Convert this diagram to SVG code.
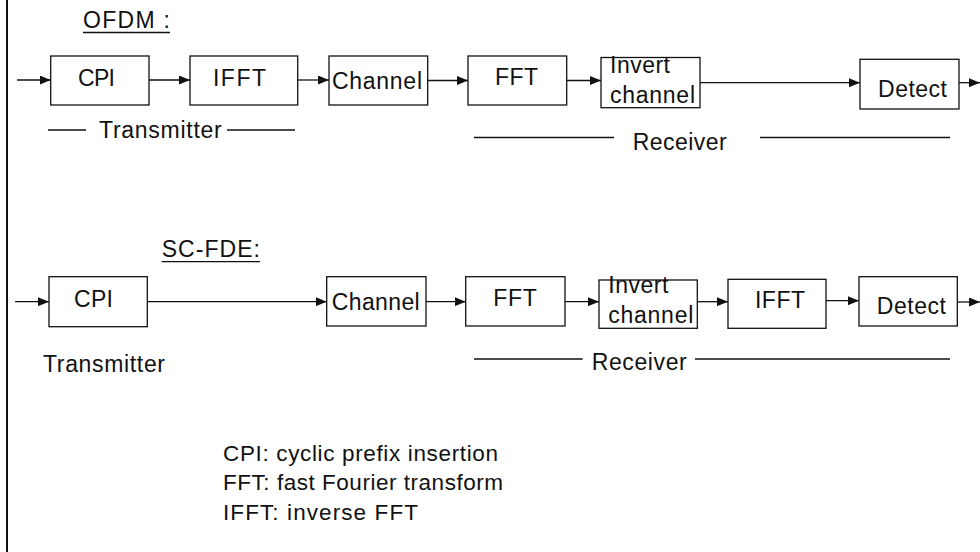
<svg xmlns="http://www.w3.org/2000/svg" width="980" height="552" viewBox="0 0 980 552">
<style>
.box{fill:#fff;stroke:#111;stroke-width:1.3}
.t{font-family:"Liberation Sans",Arial,sans-serif;font-size:23px;fill:#111}
.lg{font-family:"Liberation Sans",Arial,sans-serif;font-size:22.5px;fill:#111}
.ln{stroke:#111;stroke-width:1.3;fill:none}
.ar{stroke:#111;stroke-width:1.3;fill:none;marker-end:url(#ah)}
</style>
<defs>
<marker id="ah" markerUnits="userSpaceOnUse" markerWidth="11" markerHeight="9" refX="11" refY="4.5" orient="auto">
<path d="M0,0 L11,4.5 L0,9 z" fill="#111"/>
</marker>
</defs>
<rect width="980" height="552" fill="#fff"/>
<line x1="7" y1="0" x2="7" y2="552" stroke="#111" stroke-width="2"/>

<g id="title-ofdm">
<text class="t" x="83" y="28" textLength="87" lengthAdjust="spacing">OFDM :</text>
<line class="ln" x1="83" y1="32.5" x2="170" y2="32.5"/>
</g>
<g id="ofdm-cpi"><rect class="box" x="50.7" y="56" width="98.3" height="49"/><text class="t" x="78" y="86" textLength="37" lengthAdjust="spacing">CPI</text></g>
<g id="ofdm-ifft"><rect class="box" x="190" y="56" width="107.7" height="49"/><text class="t" x="213" y="86" textLength="53" lengthAdjust="spacing">IFFT</text></g>
<g id="ofdm-channel"><rect class="box" x="329" y="56" width="98.7" height="49"/><text class="t" x="332" y="89" textLength="90" lengthAdjust="spacing">Channel</text></g>
<g id="ofdm-fft"><rect class="box" x="468" y="56" width="98.7" height="49"/><text class="t" x="495" y="85" textLength="43" lengthAdjust="spacing">FFT</text></g>
<g id="ofdm-invert"><rect class="box" x="601" y="57.5" width="99" height="50.2"/><text class="t" x="610" y="73" textLength="60" lengthAdjust="spacing">Invert</text><text class="t" x="610" y="103" textLength="85" lengthAdjust="spacing">channel</text></g>
<g id="ofdm-detect"><rect class="box" x="860" y="59.3" width="99" height="49.7"/><text class="t" x="878" y="97" textLength="69" lengthAdjust="spacing">Detect</text></g>
<g id="ofdm-transmitter"><line class="ln" x1="48" y1="130" x2="86" y2="130"/><text class="t" x="99" y="138" textLength="122.7" lengthAdjust="spacing">Transmitter</text><line class="ln" x1="227" y1="130" x2="295" y2="130"/></g>
<g id="ofdm-receiver"><line class="ln" x1="474" y1="137.5" x2="614" y2="137.5"/><text class="t" x="632.7" y="150" textLength="94" lengthAdjust="spacing">Receiver</text><line class="ln" x1="760" y1="137.5" x2="950" y2="137.5"/></g>

<g id="title-scfde">
<text class="t" x="161.7" y="257" textLength="98.3" lengthAdjust="spacing">SC-FDE:</text>
<line class="ln" x1="161.7" y1="261.7" x2="260" y2="261.7"/>
</g>
<g id="sc-cpi"><rect class="box" x="49" y="276.7" width="98.3" height="50"/><text class="t" x="74" y="307" textLength="39" lengthAdjust="spacing">CPI</text></g>
<g id="sc-channel"><rect class="box" x="326.7" y="276.7" width="99.3" height="49.3"/><text class="t" x="331.7" y="310" textLength="88" lengthAdjust="spacing">Channel</text></g>
<g id="sc-fft"><rect class="box" x="465.7" y="276.7" width="99.3" height="49.3"/><text class="t" x="493.3" y="306" textLength="43.4" lengthAdjust="spacing">FFT</text></g>
<g id="sc-invert"><rect class="box" x="599" y="280" width="98.3" height="48.3"/><text class="t" x="608.3" y="293.3" textLength="60" lengthAdjust="spacing">Invert</text><text class="t" x="608.3" y="323.3" textLength="85" lengthAdjust="spacing">channel</text></g>
<g id="sc-ifft"><rect class="box" x="728" y="279.3" width="98" height="49"/><text class="t" x="755" y="308" textLength="50" lengthAdjust="spacing">IFFT</text></g>
<g id="sc-detect"><rect class="box" x="859" y="276.7" width="98.3" height="49.3"/><text class="t" x="876.7" y="314" textLength="69.3" lengthAdjust="spacing">Detect</text></g>
<g id="sc-transmitter"><text class="t" x="43" y="372" textLength="122" lengthAdjust="spacing">Transmitter</text></g>
<g id="sc-receiver"><line class="ln" x1="474" y1="359" x2="582.7" y2="359"/><text class="t" x="591.7" y="370" textLength="95" lengthAdjust="spacing">Receiver</text><line class="ln" x1="695" y1="359" x2="950" y2="359"/></g>

<g id="legend">
<text class="lg" x="223" y="460.7" textLength="275" lengthAdjust="spacing">CPI: cyclic prefix insertion</text>
<text class="lg" x="223" y="490" textLength="280" lengthAdjust="spacing">FFT: fast Fourier transform</text>
<text class="lg" x="223" y="520" textLength="195" lengthAdjust="spacing">IFFT: inverse FFT</text>
</g>

<g id="connectors">
<line class="ar" x1="17" y1="80" x2="50.7" y2="80"/>
<line class="ar" x1="149" y1="80" x2="190" y2="80"/>
<line class="ar" x1="297.7" y1="80" x2="329" y2="80"/>
<line class="ar" x1="427.7" y1="80.5" x2="468" y2="80.5"/>
<line class="ar" x1="566.7" y1="80.5" x2="601" y2="80.5"/>
<line class="ar" x1="700" y1="82.7" x2="860" y2="82.7"/>
<line class="ar" x1="959" y1="82.7" x2="980" y2="82.7"/>
<line class="ar" x1="15" y1="301.7" x2="49" y2="301.7"/>
<line class="ar" x1="147.3" y1="301.7" x2="326.7" y2="301.7"/>
<line class="ar" x1="426" y1="301.7" x2="465.7" y2="301.7"/>
<line class="ar" x1="565" y1="301.7" x2="599" y2="301.7"/>
<line class="ar" x1="697.3" y1="301.7" x2="728" y2="301.7"/>
<line class="ar" x1="826" y1="300.7" x2="859" y2="300.7"/>
<line class="ar" x1="957.3" y1="302" x2="980" y2="302"/>
</g>
</svg>
